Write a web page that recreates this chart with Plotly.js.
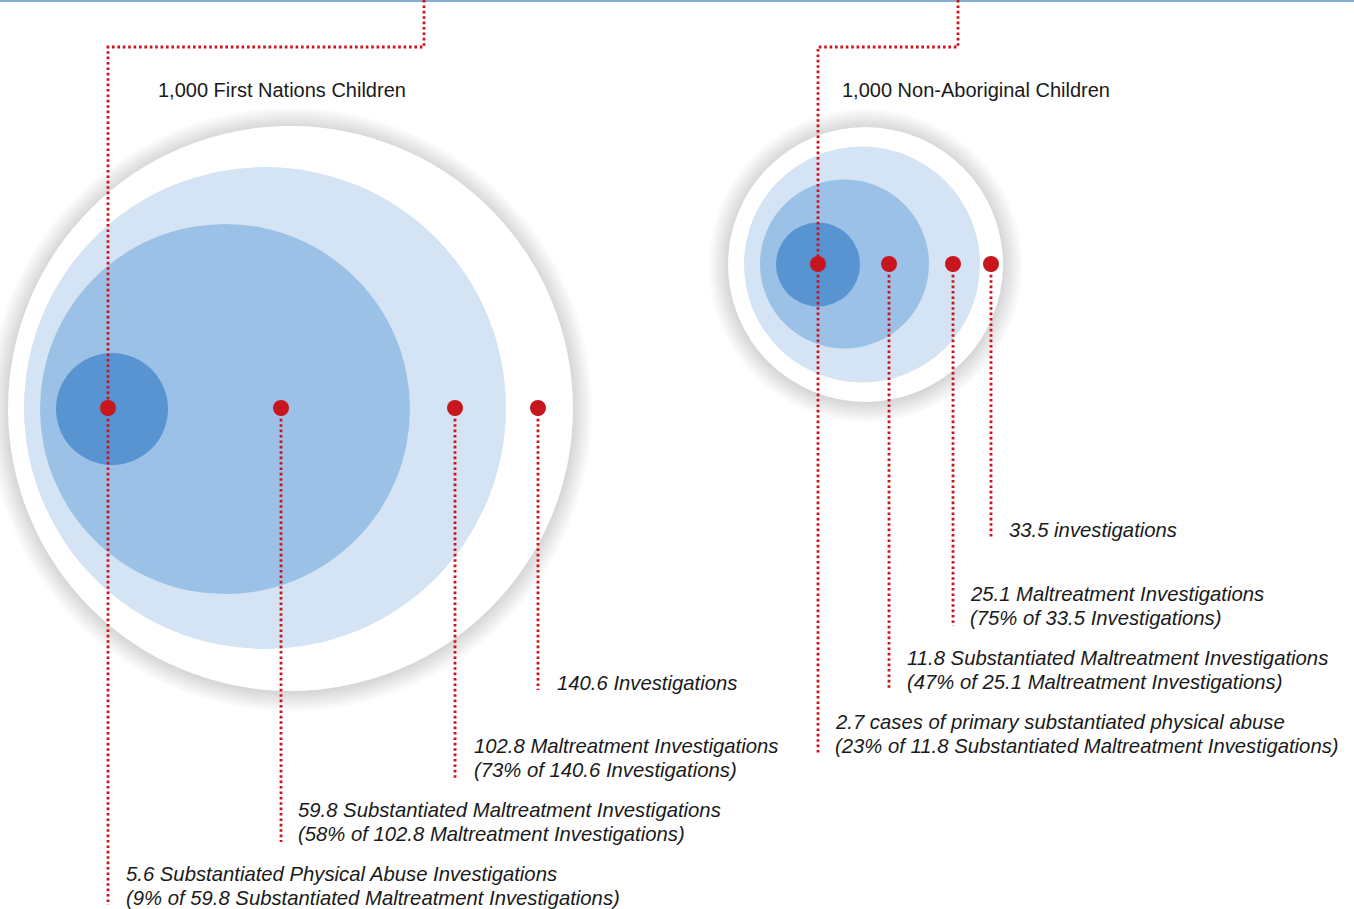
<!DOCTYPE html>
<html>
<head>
<meta charset="utf-8">
<script src="https://cdn.plot.ly/plotly-3.0.1.min.js"></script>
<style>html,body{margin:0;padding:0;background:#fff;}#chart{width:1354px;height:909px;}</style>
</head>
<body>
<div id="chart"></div>
<script>
// ---- data ----
const groups = ["1,000 First Nations Children", "1,000 Non-Aboriginal Children"];
const fnValues = [140.6, 102.8, 59.8, 5.6];
const fnPercents = [null, 73, 58, 9];
const naValues = [33.5, 25.1, 11.8, 2.7];
const naPercents = [null, 75, 47, 23];
const fnLabels = ["Investigations", "Maltreatment Investigations", "Substantiated Maltreatment Investigations", "Substantiated Physical Abuse Investigations"];
const naLabels = ["investigations", "Maltreatment Investigations", "Substantiated Maltreatment Investigations", "cases of primary substantiated physical abuse"];
const fnParentLabels = [null, "Investigations", "Maltreatment Investigations", "Substantiated Maltreatment Investigations"];
const naParentLabels = [null, "Investigations", "Maltreatment Investigations", "Substantiated Maltreatment Investigations"];

// ---- geometry (pixel units on the hidden axes) ----
const geo = [
  { // First Nations
    title: [156, 90],
    outer: [290.5, 408.5, 282.5],
    rings: [[265, 408, 241], [225, 409, 185], [112, 409, 56]],
    dotX: [538, 455, 281, 108], dotY: 408,
    lineEnd: [690, 778, 842, 905],
    leader: [424, 47],
    labelX: [555, 472, 296, 124], labelY: [683, 746, 810, 874]
  },
  { // Non-Aboriginal
    title: [840, 90],
    outer: [865.5, 264.5, 137.5],
    rings: [[862, 264.5, 118], [844.5, 264, 84.5], [818, 264.5, 42]],
    dotX: [991, 953, 889, 818], dotY: 264,
    lineEnd: [538, 626, 690, 755],
    leader: [958, 47],
    labelX: [1007, 968, 905, 833], labelY: [530, 594, 658, 722]
  }
];
const ringColors = ["#d4e4f4", "#9cc1e6", "#5894d2"];
const red = "#c8161e";
const lineRed = "#d0101a";
const txtColor = "#1a1a1a";
const fontFam = "Liberation Sans Narrow, Arial Narrow, sans-serif";
const labelSize = 20.3;
const titleSize = 20;
const dashStyle = "2.6px,2.8px";

const shapes = [];
const annotations = [];
const traces = [];

// top rule
shapes.push({type: "line", xref: "x", yref: "y", x0: 0, x1: 1354, y0: 1, y1: 1, layer: "below",
  line: {color: "#5b93c9", width: 1.5}});

const datasets = [
  {values: fnValues, pct: fnPercents, labels: fnLabels, parents: fnParentLabels},
  {values: naValues, pct: naPercents, labels: naLabels, parents: naParentLabels}
];

geo.forEach((g, gi) => {
  const [cx, cy, R] = g.outer;
  // soft shadow
  for (let k = 20; k >= 1; k--) {
    shapes.push({type: "circle", xref: "x", yref: "y", layer: "below",
      x0: cx - R - k, x1: cx + R + k, y0: cy - R - k + 1, y1: cy + R + k + 1,
      fillcolor: "rgba(0,0,0,0.0075)", line: {width: 0}});
  }
  shapes.push({type: "circle", xref: "x", yref: "y", layer: "below",
    x0: cx - R, x1: cx + R, y0: cy - R, y1: cy + R, fillcolor: "#ffffff", line: {width: 0}});
  g.rings.forEach((r, ri) => {
    shapes.push({type: "circle", xref: "x", yref: "y", layer: "below",
      x0: r[0] - r[2], x1: r[0] + r[2], y0: r[1] - r[2], y1: r[1] + r[2],
      fillcolor: ringColors[ri], line: {width: 0}});
  });
  // leader from top
  const innerX = g.dotX[3];
  shapes.push({type: "path", xref: "x", yref: "y", layer: "below",
    path: `M ${g.leader[0]},0 L ${g.leader[0]},${g.leader[1]} L ${innerX},${g.leader[1]} L ${innerX},${g.dotY}`,
    line: {color: lineRed, width: 2.8, dash: dashStyle}});
  // drop lines
  g.dotX.forEach((x, i) => {
    shapes.push({type: "line", xref: "x", yref: "y", layer: "below",
      x0: x, x1: x, y0: g.dotY, y1: g.lineEnd[i],
      line: {color: lineRed, width: 2.8, dash: dashStyle}});
  });
  // dots
  traces.push({type: "scatter", mode: "markers", x: g.dotX, y: g.dotX.map(() => g.dotY),
    marker: {size: 16, color: red, line: {width: 0}}, hoverinfo: "skip", showlegend: false});
  // title
  annotations.push({x: g.title[0], y: g.title[1], xref: "x", yref: "y", xanchor: "left", yanchor: "middle",
    showarrow: false, text: groups[gi], font: {family: fontFam, size: titleSize, color: txtColor}});
  // labels
  const d = datasets[gi];
  d.values.forEach((v, i) => {
    annotations.push({x: g.labelX[i], y: g.labelY[i], xref: "x", yref: "y", xanchor: "left", yanchor: "middle",
      showarrow: false, text: `${v} ${d.labels[i]}`,
      font: {family: fontFam, size: labelSize, color: txtColor, style: "italic"}});
    if (d.pct[i] !== null) {
      annotations.push({x: g.labelX[i], y: g.labelY[i] + 24, xref: "x", yref: "y", xanchor: "left", yanchor: "middle",
        showarrow: false, text: `(${d.pct[i]}% of ${d.values[i - 1]} ${d.parents[i]})`,
        font: {family: fontFam, size: labelSize, color: txtColor, style: "italic"}});
    }
  });
});

const layout = {
  width: 1354, height: 909,
  margin: {l: 0, r: 0, t: 0, b: 0},
  paper_bgcolor: "#ffffff", plot_bgcolor: "#ffffff",
  xaxis: {range: [0, 1354], visible: false, fixedrange: true},
  yaxis: {range: [909, 0], visible: false, fixedrange: true},
  shapes: shapes,
  annotations: annotations,
  showlegend: false
};
Plotly.newPlot("chart", traces, layout, {displayModeBar: false, staticPlot: true});
</script>
</body>
</html>
